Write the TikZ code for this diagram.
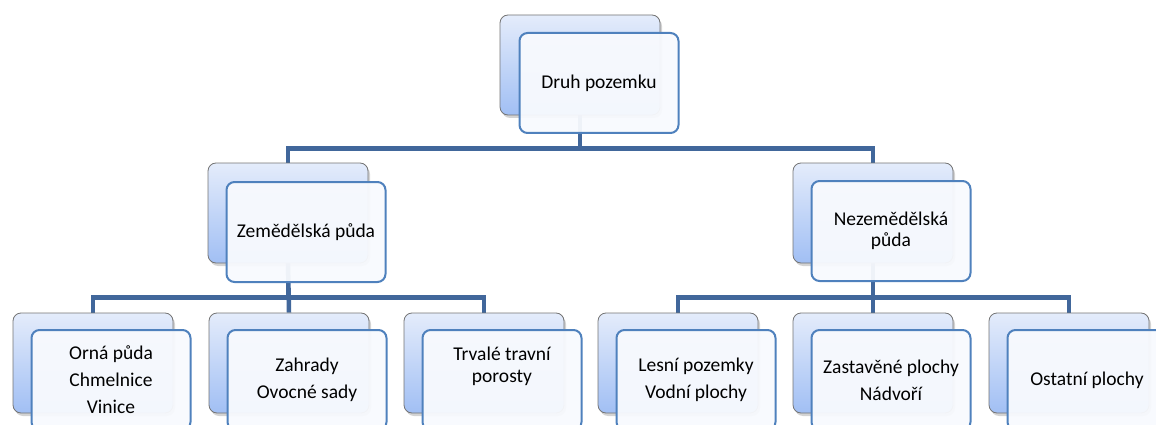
\documentclass[tikz,border=0pt]{standalone}
\usepackage{fontspec}
\setmainfont{Carlito}
\usetikzlibrary{shadows,backgrounds}

\definecolor{linkblue}{HTML}{41679B}
\definecolor{frameblue}{HTML}{4F81BD}
\definecolor{backtop}{HTML}{E4ECFB}
\definecolor{backbot}{HTML}{A1BFF4}
\definecolor{paleface}{HTML}{F8FAFE}

\tikzset{
  backbox/.style={rectangle,rounded corners=8pt,minimum width=160pt,minimum height=100pt,
    top color=backtop,bottom color=backbot,draw=gray!90!black,line width=0.8pt,
    drop shadow={shadow xshift=2pt,shadow yshift=-3pt,opacity=0.35}},
  frontbox/.style={rectangle,rounded corners=8pt,minimum width=159pt,minimum height=100pt,
    draw=frameblue,line width=2pt,fill=paleface,fill opacity=0.95,text opacity=1,
    align=center,font=\fontsize{19.5}{27}\selectfont},
  link/.style={draw=linkblue,line width=4.5pt}
}

\begin{document}
\begin{tikzpicture}[x=1pt,y=-1pt]
                \useasboundingbox (0,0) rectangle (1156,425);
                \clip (0,0) rectangle (1156,425);

                % back boxes
                \node (root) at (580,65) [backbox] {};
                \node (zem) at (288,213) [backbox] {};
                \node (nezem) at (873,213) [backbox] {};
                \node (orna) at (93,363) [backbox] {};
                \node (zahr) at (289,363) [backbox] {};
                \node (trv) at (484,363) [backbox] {};
                \node (les) at (678,363) [backbox] {};
                \node (zast) at (873,363) [backbox] {};
                \node (ost) at (1069,363) [backbox] {};

                % front boxes with the texts
                \node (rootf) at (599,83) [frontbox] {Druh pozemku};
                \node (zemf) at (306,232) [frontbox] {Zemědělská půda};
                \node (nezemf) at (891,231) [frontbox] {Nezemědělská\\[-6pt]půda};
                \node (ornaf) at (111,380) [frontbox] {Orná půda\\Chmelnice\\Vinice};
                \node (zahrf) at (307,380) [frontbox] {Zahrady\\Ovocné sady};
                \node (trvf) at (502,380) [frontbox] {\raisebox{14pt}[\height][\depth]{\begin{tabular}{@{}c@{}}Trvalé travní\\[-5pt]porosty\end{tabular}}};
                \node (lesf) at (696,380) [frontbox] {Lesní pozemky\\Vodní plochy};
                \node (zastf) at (891,380) [frontbox] {Zastavěné plochy\\Nádvoří};
                \node (ostf) at (1087,380) [frontbox] {Ostatní plochy};

                \begin{scope}[on background layer]
                \draw[link] (root.south) -- ++(0,33) -| (zem.north);
                \draw[link] (root.south) -- ++(0,33) -| (nezem.north);
                \draw[link] (zem.south) -- ++(0,34) -| (orna.north);
                \draw[link] (zem.south) -- ++(0,34) -| (trv.north);
                \draw[link] (zem.south) -- (zahr.north);
                \draw[link] (nezem.south) -- ++(0,34) -| (les.north);
                \draw[link] (nezem.south) -- ++(0,34) -| (ost.north);
                \draw[link] (nezem.south) -- (zast.north);
                \end{scope}

            \end{tikzpicture}
\end{document}
